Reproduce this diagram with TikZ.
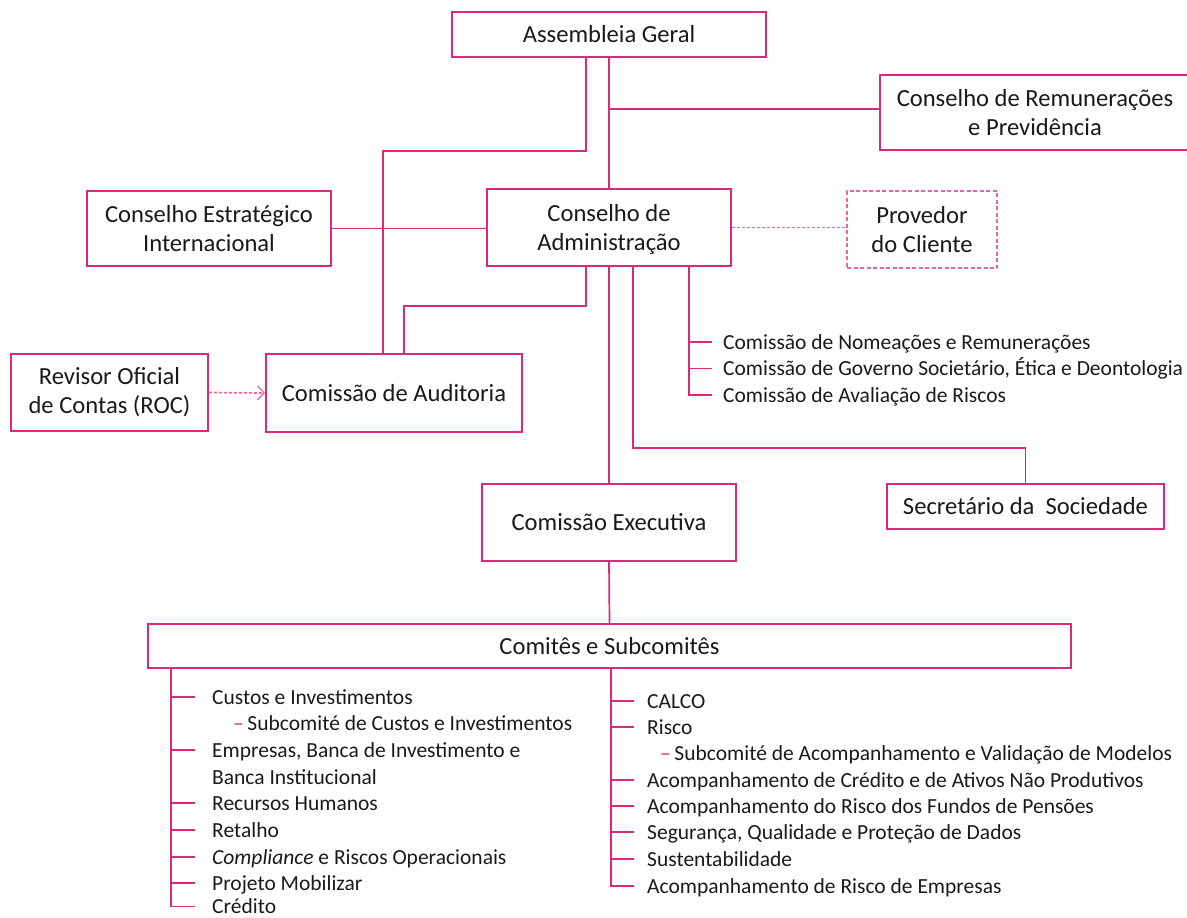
\documentclass[tikz,border=0pt]{standalone}
\usepackage{fontspec}
\setmainfont{Carlito}
\usetikzlibrary{arrows.meta}
\definecolor{pk}{RGB}{220,40,122}
\definecolor{pkl}{RGB}{232,100,160}
\definecolor{tx}{RGB}{25,25,30}
\tikzset{
  box/.style={draw=pk, line width=1.7pt, fill=white, align=center,
    font=\fontsize{24.6}{29}\selectfont, text=tx, inner sep=0pt},
  dbox/.style={box, draw=pkl, line width=1.2pt, dash pattern=on 4pt off 2.5pt},
  conn/.style={draw=pk, line width=1.7pt},
  dconn/.style={draw=pkl, line width=1.7pt, dash pattern=on 3pt off 2pt},
  item/.style={anchor=west, inner sep=0pt, font=\fontsize{21.5}{24}\selectfont,
    text=tx, text height=16pt, text depth=2pt},
}
\newcommand{\pdash}{{\color{pk}–}\,}
\begin{document}
\begin{tikzpicture}[x=1pt,y=1pt]
\useasboundingbox (0,0) rectangle (1187,-918);
% boxes
\node[box, minimum width=314pt, minimum height=45pt] (ag) at (609,-34.5) {Assembleia Geral};
\node[box, minimum width=310pt, minimum height=75pt] (crp) at (1035,-112.5) {Conselho de Remunerações\\e Previdência};
\node[box, minimum width=244pt, minimum height=75pt] (ce) at (209,-228.5) {Conselho Estratégico\\Internacional};
\node[box, minimum width=244pt, minimum height=77pt] (ca) at (609,-227.5) {\strut Conselho de\\Administração};
\node[dbox, minimum width=150pt, minimum height=77pt] (prov) at (922,-229.5) {Provedor\\do Cliente};
\node[box, minimum width=197pt, minimum height=77pt] (roc) at (109.5,-392.5) {Revisor Oficial\\de Contas (ROC)};
\node[box, minimum width=256pt, minimum height=78pt] (aud) at (394,-393) {Comissão de Auditoria};
\node[box, minimum width=254pt, minimum height=77pt] (cex) at (609,-522.5) {Comissão Executiva};
\node[box, minimum width=277pt, minimum height=45pt] (sec) at (1025.5,-506.5) {Secretário da\ \ Sociedade};
\node[box, minimum width=923pt, minimum height=44pt] (com) at (609.5,-646) {Comitês e Subcomitês};
% connectors top
\draw[conn] ([xshift=-23pt]ag.south) -- ++(0,-93) -| ([xshift=-11pt]aud.north);
\draw[conn] (ag.south) -- (ca.north);
\draw[conn] ([yshift=3.5pt]crp.west) -- ([yshift=3.5pt]crp.west -| ca.north);
\draw[conn] (ce.east) -- (ce.east -| ca.west);
\draw[dconn] (ca.east) -- (ca.east -| prov.west);
\draw[conn] ([xshift=-23pt]ca.south) -- ++(0,-39) -| ([xshift=10pt]aud.north);
\draw[conn] (ca.south) -- (cex.north);
\draw[conn] ([xshift=24pt]ca.south) -- ++(0,-181) -| (sec.north);
\draw[dconn, -{Straight Barb[length=7pt,width=14pt,line width=1.2pt]}] (roc.east) -- (aud.west);
\draw[conn] (cex.south) -- (com.north);
% comissoes
\node[item] (cn1) at (723,-342) {Comissão de Nomeações e Remunerações};
\node[item] (cn2) at (723,-368.5) {Comissão de Governo Societário, Ética e Deontologia};
\node[item] (cn3) at (723,-395) {Comissão de Avaliação de Riscos};
\coordinate (cat) at ([xshift=80pt]ca.south);
\draw[conn] (cat) |- ([xshift=-11pt]cn3.west);
\draw[conn] (cat |- cn1.west) -- ([xshift=-11pt]cn1.west);
\draw[conn] (cat |- cn2.west) -- ([xshift=-11pt]cn2.west);
% left list
\node[item] (l1) at (212,-697) {Custos e Investimentos};
\node[item] (l1s) at (233,-723.5) {\pdash Subcomité de Custos e Investimentos};
\node[item] (l2) at (212,-750) {Empresas, Banca de Investimento e};
\node[item] (l2b) at (212,-777) {Banca Institucional};
\node[item] (l3) at (212,-803) {Recursos Humanos};
\node[item] (l4) at (212,-830) {Retalho};
\node[item] (l5) at (212,-857) {\textit{Compliance} e Riscos Operacionais};
\node[item] (l6) at (212,-883) {Projeto Mobilizar};
\node[item] (l7) at (212,-906.5) {Crédito};
\coordinate (lt) at ([xshift=24pt]com.south west);
\draw[conn] (lt) |- ([xshift=-17pt]l7.west);
\foreach \n in {l1,l2,l3,l4,l5,l6}
  \draw[conn] (lt |- \n.west) -- ([xshift=-17pt]\n.west);
% right list
\node[item] (r1) at (647,-701) {CALCO};
\node[item] (r2) at (647,-727) {Risco};
\node[item] (r2s) at (660,-753.5) {\pdash Subcomité de Acompanhamento e Validação de Modelos};
\node[item] (r3) at (647,-780) {Acompanhamento de Crédito e de Ativos Não Produtivos};
\node[item] (r4) at (647,-806) {Acompanhamento do Risco dos Fundos de Pensões};
\node[item] (r5) at (647,-832) {Segurança, Qualidade e Proteção de Dados};
\node[item] (r6) at (647,-859) {Sustentabilidade};
\node[item] (r7) at (647,-886) {Acompanhamento de Risco de Empresas};
\coordinate (rt) at ([xshift=1.5pt]com.south);
\draw[conn] (rt) |- ([xshift=-13pt]r7.west);
\foreach \n in {r1,r2,r3,r4,r6}
  \draw[conn] (rt |- \n.west) -- ([xshift=-13pt]\n.west);
\draw[conn, line width=2.6pt] (rt |- r5.west) -- ([xshift=-13pt]r5.west);
\end{tikzpicture}
\end{document}
